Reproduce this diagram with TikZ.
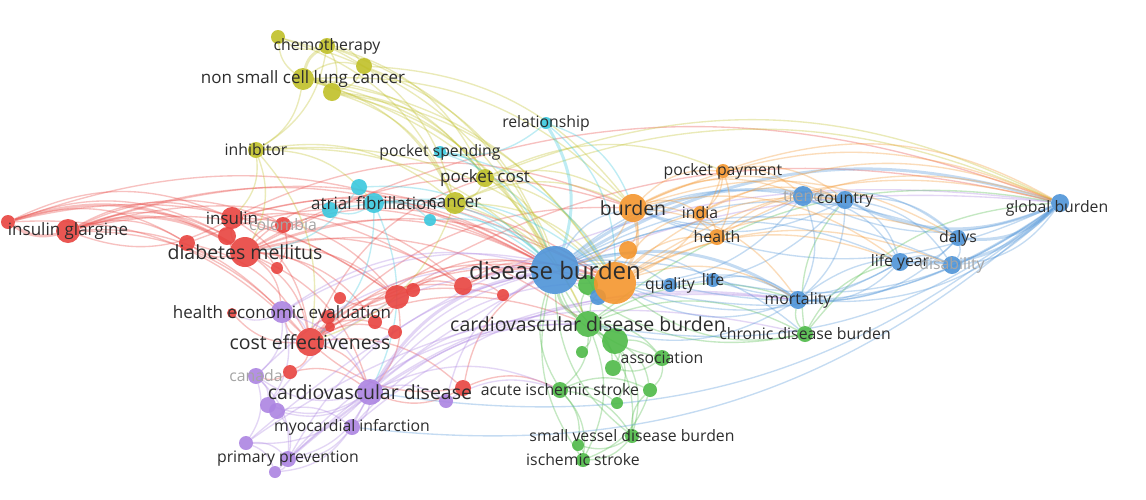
\documentclass[tikz,border=0pt]{standalone}
\usepackage{fontspec}
\setmainfont{Open Sans}
\pgfdeclarelayer{bg}
\pgfdeclarelayer{fg}
\pgfsetlayers{bg,main,fg}
\definecolor{cred}{RGB}{232,68,64}
\definecolor{cgreen}{RGB}{78,186,72}
\definecolor{cblue}{RGB}{78,148,216}
\definecolor{cyellow}{RGB}{192,192,40}
\definecolor{cpurple}{RGB}{172,132,226}
\definecolor{ccyan}{RGB}{58,200,222}
\definecolor{corange}{RGB}{244,150,46}
\definecolor{lbltext}{RGB}{45,45,45}
\definecolor{lblfaint}{RGB}{165,165,165}
\tikzset{
  kw/.style={circle, inner sep=0pt, fill opacity=.9},
  sz/.style={minimum size=#1pt},
  nred/.style={kw, fill=cred},
  ngreen/.style={kw, fill=cgreen},
  nblue/.style={kw, fill=cblue},
  nyellow/.style={kw, fill=cyellow},
  npurple/.style={kw, fill=cpurple},
  ncyan/.style={kw, fill=ccyan},
  norange/.style={kw, fill=corange},
  lbl/.style={text=lbltext, inner sep=0pt, font=\fontsize{15.8}{18}\selectfont},
  lblM/.style={lbl, font=\fontsize{17}{20}\selectfont},
  lblL/.style={lbl, font=\fontsize{19.5}{23}\selectfont},
  lblXL/.style={lbl, font=\fontsize{24}{28}\selectfont},
  faint/.style={text=lblfaint},
  elink/.style={draw opacity=.33, line width=1.35pt, bend left=24},
  ered/.style={elink, draw=cred},
  egreen/.style={elink, draw=cgreen},
  eblue/.style={elink, draw=cblue},
  eyellow/.style={elink, draw=cyellow},
  epurple/.style={elink, draw=cpurple},
  ecyan/.style={elink, draw=ccyan},
  eorange/.style={elink, draw=corange},
  thk/.style={line width=3pt},
}
\begin{document}
\begin{tikzpicture}[x=1pt, y=-1pt]
        \useasboundingbox (0,0) rectangle (1146,499);
        % yellow cluster
        \node (y0) [nyellow, sz=14] at (278,37) {};
        \node (chemo) [nyellow, sz=16] at (327,46) {};
        \node (y2) [nyellow, sz=16] at (364,66) {};
        \node (nsclc) [nyellow, sz=22] at (303,79) {};
        \node (y4) [nyellow, sz=18] at (332,92) {};
        \node (inhib) [nyellow, sz=16] at (256,150) {};
        \node (pcost) [nyellow, sz=18] at (485,178) {};
        \node (cancer) [nyellow, sz=22] at (455,203) {};
        % cyan cluster
        \node (relat) [ncyan, sz=12] at (546,123) {};
        \node (pspend) [ncyan, sz=12] at (440,152) {};
        \node (af1) [ncyan, sz=16] at (359,187) {};
        \node (af) [ncyan, sz=20] at (374,203) {};
        \node (af3) [ncyan, sz=16] at (330,210) {};
        \node (c4) [ncyan, sz=12] at (430,220) {};
        % red cluster
        \node (r0) [nred, sz=14] at (8,222) {};
        \node (iglar) [nred, sz=24] at (68,231) {};
        \node (insulin) [nred, sz=22] at (232,218) {};
        \node (colomb) [nred, sz=16] at (283,225) {};
        \node (r4) [nred, sz=16] at (187,243) {};
        \node (r5) [nred, sz=18] at (227,236) {};
        \node (dm) [nred, sz=30] at (245,252) {};
        \node (r7) [nred, sz=12] at (277,268) {};
        \node (r8) [nred, sz=10] at (232,313) {};
        \node (r9) [nred, sz=12] at (340,298) {};
        \node (r10) [nred, sz=24] at (397,297) {};
        \node (r11) [nred, sz=14] at (413,290) {};
        \node (r12) [nred, sz=18] at (463,286) {};
        \node (r13) [nred, sz=12] at (503,295) {};
        \node (r14) [nred, sz=14] at (375,322) {};
        \node (r15) [nred, sz=14] at (395,332) {};
        \node (r16) [nred, sz=14] at (328,317) {};
        \node (r17) [nred, sz=10] at (330,327) {};
        \node (ce) [nred, sz=28] at (310,342) {};
        \node (r19) [nred, sz=14] at (290,372) {};
        \node (r20) [nred, sz=16] at (463,388) {};
        % purple cluster
        \node (hee) [npurple, sz=22] at (282,312) {};
        \node (canada) [npurple, sz=16] at (256,376) {};
        \node (cvd) [npurple, sz=26] at (370,392) {};
        \node (p3) [npurple, sz=14] at (446,401) {};
        \node (p4) [npurple, sz=16] at (268,405) {};
        \node (p5) [npurple, sz=16] at (277,411) {};
        \node (mi) [npurple, sz=16] at (352,427) {};
        \node (p7) [npurple, sz=14] at (246,443) {};
        \node (pp) [npurple, sz=16] at (288,459) {};
        \node (p9) [npurple, sz=12] at (275,472) {};
        % green cluster
        \node (cvdb) [ngreen, sz=26] at (588,324) {};
        \node (g3) [ngreen, sz=26] at (615,341) {};
        \node (g4) [ngreen, sz=12] at (582,352) {};
        \node (g5) [ngreen, sz=16] at (613,368) {};
        \node (assoc) [ngreen, sz=16] at (662,358) {};
        \node (ais) [ngreen, sz=16] at (560,390) {};
        \node (g8) [ngreen, sz=14] at (650,390) {};
        \node (g9) [ngreen, sz=12] at (617,403) {};
        \node (svdb) [ngreen, sz=14] at (632,436) {};
        \node (g11) [ngreen, sz=12] at (578,445) {};
        \node (isch) [ngreen, sz=14] at (583,460) {};
        \node (chronic) [ngreen, sz=16] at (805,334) {};
        % blue cluster
        \node (db) [nblue, sz=48] at (555,270) {};
        \node (g1) [ngreen, sz=20] at (588,285) {};
        \node (b2) [nblue, sz=16] at (598,297) {};
        \node (quality) [nblue, sz=14] at (670,285) {};
        \node (life) [nblue, sz=14] at (713,280) {};
        \node (trend) [nblue, sz=20] at (803,196) {};
        \node (country) [nblue, sz=18] at (845,200) {};
        \node (gb) [nblue, sz=18] at (1060,203) {};
        \node (dalys) [nblue, sz=16] at (958,238) {};
        \node (lifey) [nblue, sz=18] at (900,262) {};
        \node (disab) [nblue, sz=18] at (952,265) {};
        \node (mort) [nblue, sz=18] at (798,300) {};
        % orange cluster
        \node (o1) [norange, sz=42] at (615,283) {};
        \node (burden) [norange, sz=28] at (633,208) {};
        \node (ppay) [norange, sz=14] at (723,171) {};
        \node (india) [norange, sz=14] at (700,213) {};
        \node (health) [norange, sz=16] at (717,237) {};
        \node (o6) [norange, sz=18] at (628,250) {};
        \begin{pgfonlayer}{bg}
                \fill[white] (0,0) rectangle (1146,499);
                % red links
                \draw[ered, thk] (iglar) edge (r0) edge (dm);
                \draw[ered, thk] (r0) edge (dm);
                \draw[ered] (r0) edge (insulin) edge (r4) edge (r5) edge (ce) edge (db) edge (r10);
                \draw[ered] (iglar) edge (insulin) edge (r5) edge (ce) edge (db) edge (r10) edge (colomb) edge (r4) edge (r12) edge (o1) edge (hee);
                \draw[ered] (dm) edge (insulin) edge (r4) edge (r5) edge (colomb) edge (db) edge (ce) edge (r10) edge (r12) edge (hee) edge (cvd) edge (af) edge (o1) edge (burden) edge (r7) edge (r9) edge (gb) edge (cvdb) edge (r14);
                \draw[ered] (insulin) edge (db) edge (ce) edge (r10) edge (r12) edge (colomb) edge (r5) edge (burden) edge (o1) edge (iglar);
                \draw[ered] (ce) edge (db) edge (hee) edge (cvd) edge (r10) edge (r12) edge (r14) edge (r15) edge (r16) edge (r17) edge (o1) edge (burden) edge (cvdb) edge (pcost) edge (r8) edge (r19) edge (gb) edge (r20) edge (r13);
                \draw[ered] (r10) edge (db) edge (r12) edge (r11) edge (o1) edge (r14) edge (r9) edge (cvd);
                \draw[ered] (r12) edge (db) edge (o1) edge (r13) edge (g1);
                \draw[ered] (r20) edge (cvd) edge (db) edge (ais) edge (ce);
                \draw[ered] (r19) edge (canada) edge (cvd);
                \draw[ered] (colomb) edge (db) edge (r7);
                \draw[ered] (r4) edge (db) edge (ce);
                % yellow links
                \draw[eyellow, thk] (nsclc) edge (chemo) edge (y4);
                \draw[eyellow] (nsclc) edge (y0) edge (y2) edge (inhib) edge (cancer) edge (pcost) edge (db) edge (burden) edge (o1) edge (cvdb);
                \draw[eyellow] (chemo) edge (y0) edge (y2) edge (y4) edge (cancer) edge (db) edge (pcost) edge (inhib);
                \draw[eyellow] (y0) edge (db) edge (cancer);
                \draw[eyellow] (y2) edge (y4) edge (db) edge (burden);
                \draw[eyellow] (y4) edge (cancer) edge (db) edge (pcost) edge (o1);
                \draw[eyellow] (inhib) edge (dm) edge (insulin) edge (cancer) edge (db) edge (ce) edge (af) edge (o1);
                \draw[eyellow] (pcost) edge (db) edge (burden) edge (o1) edge (cancer) edge (ppay) edge (gb);
                \draw[eyellow] (cancer) edge (db) edge (o1) edge (burden) edge (cvdb) edge (gb) edge (ce);
                % cyan links
                \draw[ecyan, thk] (relat) edge (db);
                \draw[ecyan] (relat) edge (o1) edge (burden) edge (pspend);
                \draw[ecyan] (pspend) edge (db) edge (pcost) edge (o1);
                \draw[ecyan] (af) edge (af1) edge (af3) edge (db) edge (c4) edge (cvd) edge (ce) edge (o1);
                \draw[ecyan] (af1) edge (db) edge (dm);
                \draw[ecyan] (af3) edge (db);
                \draw[ecyan] (c4) edge (db);
                % purple links
                \draw[epurple, thk] (cvd) edge (db);
                \draw[epurple] (hee) edge (ce) edge (cvd) edge (db) edge (canada) edge (p4) edge (r8) edge (o1);
                \draw[epurple] (cvd) edge (p3) edge (mi) edge (p4) edge (p5) edge (pp) edge (p7) edge (canada) edge (cvdb) edge (ais) edge (o1);
                \draw[epurple] (canada) edge (p4) edge (p7) edge (pp) edge (db);
                \draw[epurple] (p4) edge (p5) edge (db);
                \draw[epurple] (p5) edge (mi) edge (pp);
                \draw[epurple] (p7) edge (pp) edge (p9) edge (chronic) edge (gb);
                \draw[epurple] (pp) edge (p9) edge (db) edge (gb) edge (mort) edge (cvdb);
                \draw[epurple] (mi) edge (pp) edge (db) edge (mort) edge (cvdb) edge (p9);
                \draw[epurple] (p9) edge (mort);
                \draw[epurple] (p3) edge (db) edge (ais);
                % green links
                \draw[egreen, thk] (cvdb) edge (g3) edge (db);
                \draw[egreen] (cvdb) edge (g1) edge (o1) edge (g4) edge (g5) edge (assoc) edge (ais) edge (svdb) edge (isch) edge (chronic) edge (mort) edge (gb);
                \draw[egreen] (g3) edge (g5) edge (assoc) edge (g8) edge (g9) edge (svdb) edge (db);
                \draw[egreen] (ais) edge (g11) edge (isch) edge (svdb) edge (g9) edge (g8) edge (db);
                \draw[egreen] (svdb) edge (isch) edge (g11) edge (g8) edge (db);
                \draw[egreen] (g11) edge (isch);
                \draw[egreen] (isch) edge (db);
                \draw[egreen] (chronic) edge (db) edge (mort) edge (gb) edge (o1) edge (lifey) edge (country);
                \draw[egreen] (assoc) edge (g8) edge (g5) edge (db);
                \draw[egreen] (g8) edge (isch);
                % blue links
                \draw[eblue, thk] (db) edge (gb) edge (country) edge (mort);
                \draw[eblue] (db) edge (trend) edge (lifey) edge (dalys) edge (disab) edge (quality) edge (life) edge (b2) edge (o1) edge (burden) edge (chronic);
                \draw[eblue, thk] (gb) edge (dalys) edge (lifey) edge (country);
                \draw[eblue] (gb) edge (trend) edge (disab) edge (mort) edge (o1) edge (burden) edge (cvdb) edge (cvd) edge (mi) edge (quality) edge (life);
                \draw[eblue] (country) edge (trend) edge (lifey) edge (dalys) edge (mort) edge (disab) edge (burden) edge (o1);
                \draw[eblue] (trend) edge (mort) edge (burden) edge (o1) edge (lifey) edge (dalys);
                \draw[eblue] (dalys) edge (lifey) edge (disab) edge (mort);
                \draw[eblue] (lifey) edge (disab) edge (mort) edge (life) edge (o1);
                \draw[eblue] (life) edge (mort);
                \draw[eblue] (mort) edge (disab) edge (o1) edge (cvdb);
                \draw[eblue] (quality) edge (mort);
                % orange links
                \draw[eorange, thk] (burden) edge (o1);
                \draw[eorange] (burden) edge (ppay) edge (india) edge (health) edge (o6) edge (db) edge (gb) edge (country) edge (trend) edge (lifey) edge (dalys) edge (mort);
                \draw[eorange] (ppay) edge (o1) edge (india) edge (health) edge (gb) edge (country) edge (trend);
                \draw[eorange] (o1) edge (o6) edge (health) edge (india) edge (gb) edge (mort) edge (country) edge (lifey) edge (dalys) edge (disab);
                \draw[eorange] (india) edge (health) edge (gb) edge (country);
                \draw[eorange] (health) edge (gb) edge (country);
                \draw[eorange] (o6) edge (db);
        \end{pgfonlayer}
        \begin{pgfonlayer}{fg}
                \node (t-chemo) [lbl] at (chemo) {chemotherapy};
                \node (t-nsclc) [lblM] at (nsclc) {non small cell lung cancer};
                \node (t-inhib) [lbl] at (inhib) {inhibitor};
                \node (t-pcost) [lblM] at (pcost) {pocket cost};
                \node (t-cancer) [lblM] at (cancer) {cancer};
                \node (t-relat) [lbl] at (relat) {relationship};
                \node (t-pspend) [lbl] at (pspend) {pocket spending};
                \node (t-af) [lblM] at (af) {atrial fibrillation};
                \node (t-iglar) [lblM] at (iglar) {insulin glargine};
                \node (t-insulin) [lblM] at (insulin) {insulin};
                \node (t-colomb) [lbl, faint] at (colomb) {colombia};
                \node (t-dm) [lblL] at (dm) {diabetes mellitus};
                \node (t-hee) [lblM] at (hee) {health economic evaluation};
                \node (t-ce) [lblL] at (ce) {cost effectiveness};
                \node (t-canada) [lbl, faint] at (canada) {canada};
                \node (t-cvd) [lblL] at (cvd) {cardiovascular disease};
                \node (t-mi) [lbl] at (mi) {myocardial infarction};
                \node (t-pp) [lbl] at (pp) {primary prevention};
                \node (t-cvdb) [lblL] at (cvdb) {cardiovascular disease burden};
                \node (t-assoc) [lbl] at (assoc) {association};
                \node (t-ais) [lbl] at (ais) {acute ischemic stroke};
                \node (t-svdb) [lbl] at (svdb) {small vessel disease burden};
                \node (t-isch) [lbl] at (isch) {ischemic stroke};
                \node (t-chronic) [lbl] at (chronic) {chronic disease burden};
                \node (t-db) [lblXL] at (db) {disease burden};
                \node (t-quality) [lbl] at (quality) {quality};
                \node (t-life) [lbl] at (life) {life};
                \node (t-trend) [lbl, faint] at (trend) {trend};
                \node (t-country) [lbl] at (country) {country};
                \node (t-gb) [lbl] at ([shift={(-3,5)}]gb) {global burden};
                \node (t-dalys) [lbl] at (dalys) {dalys};
                \node (t-lifey) [lbl] at (lifey) {life year};
                \node (t-disab) [lbl, faint] at (disab) {disability};
                \node (t-mort) [lbl] at (mort) {mortality};
                \node (t-burden) [lblL] at (burden) {burden};
                \node (t-ppay) [lbl] at (ppay) {pocket payment};
                \node (t-india) [lbl] at (india) {india};
                \node (t-health) [lbl] at (health) {health};
        \end{pgfonlayer}
\end{tikzpicture}
\end{document}
